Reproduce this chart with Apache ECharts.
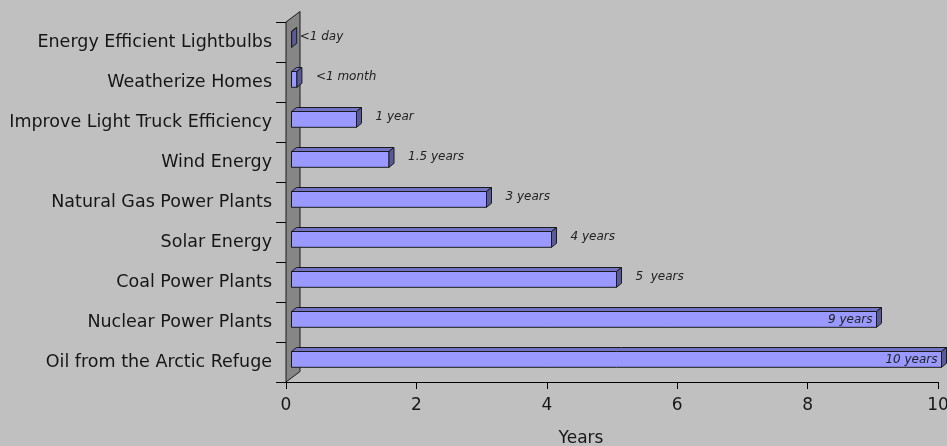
<!DOCTYPE html>
<html>
<head>
<meta charset="utf-8">
<title>Years to market impact</title>
<script src="https://cdn.jsdelivr.net/npm/echarts@6/dist/echarts.min.js"></script>
<style>
  html, body { margin: 0; padding: 0; background: #c0c0c0; }
  #chart { width: 947px; height: 446px; }
</style>
</head>
<body>
<div id="chart"></div>
<script>
// Options, top to bottom
const categories = [
  'Energy Efficient Lightbulbs',
  'Weatherize Homes',
  'Improve Light Truck Efficiency',
  'Wind Energy',
  'Natural Gas Power Plants',
  'Solar Energy',
  'Coal Power Plants',
  'Nuclear Power Plants',
  'Oil from the Arctic Refuge'
];
// Time in years (<1 day ≈ 1/365, <1 month ≈ 1/12)
const yearsToImpact = [0.003, 0.083, 1, 1.5, 3, 4, 5, 9, 10];
const valueLabels = ['<1 day', '<1 month', '1 year', '1.5 years', '3 years', '4 years', '5  years', '9 years', '10 years'];
const axisMin = 0;
const axisMax = 10;
const axisStep = 2;

const FONT = 'DejaVu Sans';
const INK = '#161616';
const EDGE = '#1a1a1a';

// 3D box depth offsets
const WALL_DX = 14, WALL_DY = -10.5;
const BAR_DX = 5, BAR_DY = -4;

const chart = echarts.init(document.getElementById('chart'), null, { renderer: 'canvas' });

function renderWall(params, api) {
  const cs = params.coordSys;
  const x0 = cs.x, yt = cs.y, yb = cs.y + cs.height;
  return {
    type: 'polygon',
    shape: { points: [[x0, yt], [x0 + WALL_DX, yt + WALL_DY], [x0 + WALL_DX, yb + WALL_DY], [x0, yb]] },
    style: { fill: '#868686', stroke: EDGE, lineWidth: 1 },
    silent: true
  };
}

function renderBar(params, api) {
  const v = api.value(0);
  const ci = api.value(1);
  const start = api.coord([0, ci]);
  const end = api.coord([v, ci]);
  const c = start[1];
  const xl = start[0], xr = end[0];
  const ft = c - 10.5, fb = c + 5.3;
  const stroke = { stroke: EDGE, lineWidth: 1, lineJoin: 'miter' };
  const text = valueLabels[params.dataIndex];
  const labelW = 56;
  const inside = xr + 19 + labelW > api.getWidth();
  const label = inside
    ? { x: xr - 4, y: (ft + fb) / 2, align: 'right' }
    : { x: xr + (v < 0.05 ? 8 : 19), y: c - 5, align: 'left' };
  return {
    type: 'group',
    children: [
      {
        type: 'polygon',
        shape: { points: [[xl, ft], [xr, ft], [xr, fb], [xl, fb]] },
        style: Object.assign({ fill: '#9999ff' }, stroke)
      },
      {
        type: 'polygon',
        shape: { points: [[xl, ft], [xl + BAR_DX, ft + BAR_DY], [xr + BAR_DX, ft + BAR_DY], [xr, ft]] },
        style: Object.assign({ fill: '#7373c6' }, stroke)
      },
      {
        type: 'polygon',
        shape: { points: [[xr, ft], [xr + BAR_DX, ft + BAR_DY], [xr + BAR_DX, fb + BAR_DY], [xr, fb]] },
        style: Object.assign({ fill: '#5a5a99' }, stroke)
      },
      {
        type: 'text',
        z2: 10,
        style: {
          x: label.x, y: label.y, text: text,
          align: label.align, verticalAlign: 'middle',
          fontFamily: FONT, fontStyle: 'italic', fontSize: 12, fill: '#222'
        }
      }
    ]
  };
}

const option = {
  backgroundColor: '#c0c0c0',
  animation: false,
  grid: [
    { left: 286, right: 9, top: 22, bottom: 64, outerBoundsMode: 'none', containLabel: false },
    { left: 291.5, right: 5.5, top: 22, bottom: 64, outerBoundsMode: 'none', containLabel: false }
  ],
  xAxis: [
    {
      type: 'value', gridIndex: 0,
      min: axisMin, max: axisMax, interval: axisStep,
      axisLine: { show: true, lineStyle: { color: '#000', width: 1 } },
      axisTick: { show: true, length: 7, lineStyle: { color: '#000' } },
      axisLabel: { fontFamily: FONT, fontSize: 17, color: INK, margin: 15 },
      splitLine: { show: false },
      name: 'Years', nameLocation: 'middle', nameGap: 48,
      nameTextStyle: { fontFamily: FONT, fontSize: 17, color: INK, padding: [0, 62, 0, 0] }
    },
    {
      type: 'value', gridIndex: 1, min: axisMin, max: axisMax, show: false
    }
  ],
  yAxis: [
    {
      type: 'category', gridIndex: 0, inverse: true, data: categories,
      axisLine: { show: true, lineStyle: { color: '#000', width: 1 } },
      axisTick: { show: true, length: 10, lineStyle: { color: '#000' } },
      axisLabel: { fontFamily: FONT, fontSize: 17.5, color: INK, margin: 14 },
      splitLine: { show: false }
    },
    {
      type: 'category', gridIndex: 1, inverse: true, data: categories, show: false
    }
  ],
  series: [
    {
      type: 'custom', name: 'wall',
      xAxisIndex: 0, yAxisIndex: 0,
      data: [[0, 0]],
      renderItem: renderWall,
      silent: true, z: 1
    },
    {
      type: 'custom', name: 'Years',
      xAxisIndex: 1, yAxisIndex: 1,
      data: yearsToImpact.map((v, i) => [v, i]),
      encode: { x: 0, y: 1 },
      renderItem: renderBar,
      clip: false, z: 3
    }
  ]
};

chart.setOption(option);
</script>
</body>
</html>
